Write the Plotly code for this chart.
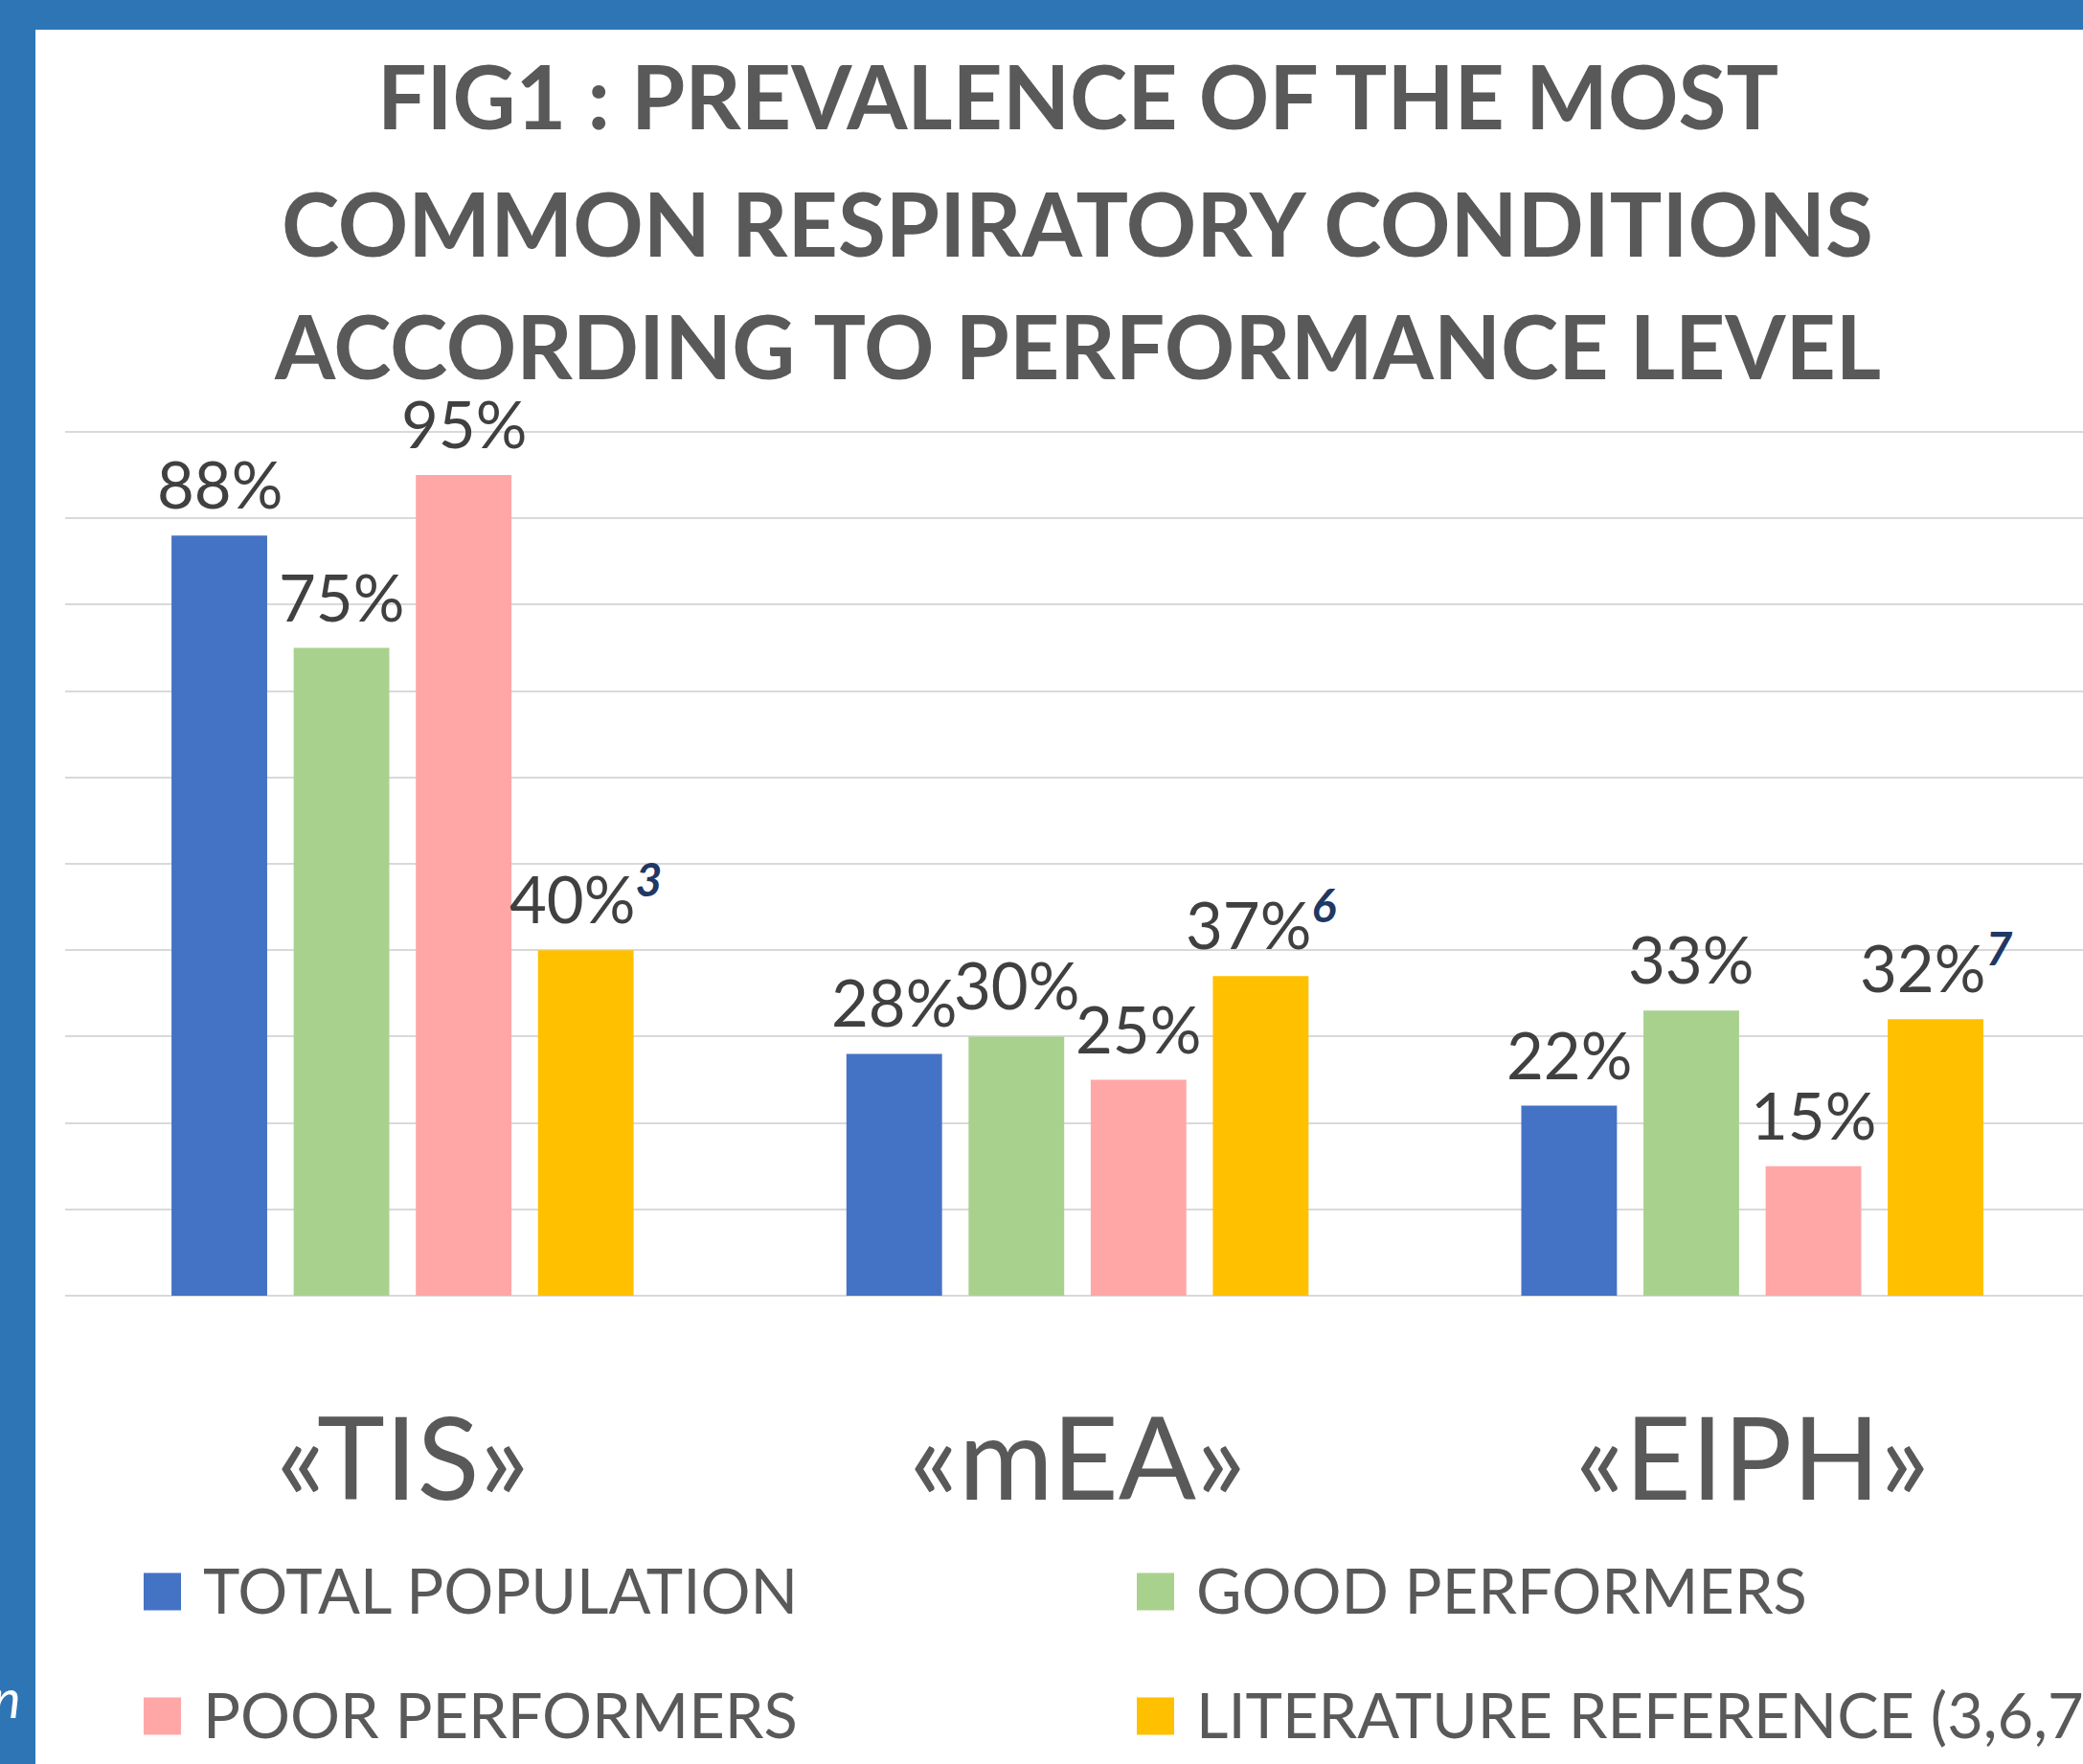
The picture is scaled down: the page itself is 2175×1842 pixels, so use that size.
import plotly.graph_objects as go

# ---------------- data ----------------
categories = ["«TIS»", "«mEA»", "«EIPH»"]
series_names = ["TOTAL POPULATION", "GOOD PERFORMERS", "POOR PERFORMERS",
                "LITERATURE REFERENCE (3,6,7)"]
total_population = [88, 28, 22]
good_performers = [75, 30, 33]
poor_performers = [95, 25, 15]
literature_reference = [40, 37, 32]
literature_refs = ["3", "6", "7"]
title_lines = ["FIG1 : PREVALENCE OF THE MOST",
               "COMMON RESPIRATORY CONDITIONS",
               "ACCORDING TO PERFORMANCE LEVEL"]
y_ticks = [0, 10, 20, 30, 40, 50, 60, 70, 80, 90, 100]

series_values = [total_population, good_performers, poor_performers, literature_reference]
series_colors = ["#4472C4", "#A9D18E", "#FFA7A7", "#FFC000"]

# ---------------- layout geometry ----------------
W, H = 2175, 1842
L, R, T, B = 68, 0, 447, 489
PW = W - L - R
PH = H - T - B
CAT_PX = 704.7          # pixel spacing between category centres
BARGAP = 0.276
GROUPGAP = 0.217
YMAX = 100 + 4.0 * 100 / 901.5   # a little headroom so the 100 gridline is drawn

FONT = "Lato, 'Open Sans', sans-serif"
GREY = "#595959"
LABEL = "#404040"
BORDER = "#2E75B6"


def px_x(px):
    return (px - L) / PW


def px_y(py):
    return (H - B - py) / PH


fig = go.Figure()
for name, vals, col in zip(series_names, series_values, series_colors):
    fig.add_trace(go.Bar(x=categories, y=vals, name=name, marker_color=col,
                         marker_line_width=0, showlegend=False, hoverinfo="x+y+name"))

annotations = []
# value labels
slot = (1 - BARGAP) / len(series_values)
for j, vals in enumerate(series_values):
    for i, v in enumerate(vals):
        txt = f"{v}%"
        if j == len(series_values) - 1:
            txt += (f"<sup><b><i><span style='color:#1F3864;font-size:48px'>"
                    f"{literature_refs[i]}</span></i></b></sup>")
        annotations.append(dict(
            x=i + (j - (len(series_values) - 1) / 2) * slot, y=v,
            xref="x", yref="y", text=txt, showarrow=False,
            xanchor="center", yanchor="bottom", yshift=12,
            font=dict(family=FONT, size=67, color=LABEL)))

# title lines
for k, line in enumerate(title_lines):
    annotations.append(dict(
        x=px_x(1125), y=px_y([100, 232, 361][k]), xref="paper", yref="paper",
        text=f"<b>{line}</b>", showarrow=False, xanchor="center", yanchor="middle",
        font=dict(family=FONT, size=91, color=GREY)))

# legend (custom, two columns)
shapes = []
leg_cols = [150, 1187]
leg_rows = [1662, 1792]
SQ = 39
for idx, (name, col) in enumerate(zip(series_names, series_colors)):
    cx = leg_cols[idx % 2]
    cy = leg_rows[idx // 2]
    shapes.append(dict(type="rect", xref="paper", yref="paper",
                       x0=px_x(cx), x1=px_x(cx + SQ),
                       y0=px_y(cy + SQ / 2), y1=px_y(cy - SQ / 2),
                       fillcolor=col, line=dict(width=0)))
    annotations.append(dict(
        x=px_x(cx + 60), y=px_y(cy - 2), xref="paper", yref="paper", text=name,
        showarrow=False, xanchor="left", yanchor="middle",
        font=dict(family=FONT, size=65, color=GREY)))

# blue frame bands
shapes.append(dict(type="rect", xref="paper", yref="paper",
                   x0=px_x(-5), x1=px_x(37), y0=px_y(H + 5), y1=px_y(-5),
                   fillcolor=BORDER, line=dict(width=0), layer="above"))
shapes.append(dict(type="rect", xref="paper", yref="paper",
                   x0=px_x(-5), x1=px_x(W + 5), y0=px_y(31), y1=px_y(-5),
                   fillcolor=BORDER, line=dict(width=0), layer="above"))

annotations.append(dict(
    x=px_x(-10), y=px_y(1772), xref="paper", yref="paper", text="<i>n</i>",
    showarrow=False, xanchor="left", yanchor="middle",
    font=dict(family=FONT, size=56, color="white")))

fig.update_layout(
    width=W, height=H,
    margin=dict(l=L, r=R, t=T, b=B, pad=0),
    paper_bgcolor="white", plot_bgcolor="white",
    barmode="group", bargap=BARGAP, bargroupgap=GROUPGAP,
    showlegend=False,
    annotations=annotations, shapes=shapes,
    font=dict(family=FONT, color=GREY),
)
fig.update_xaxes(type="category", range=[-0.5, -0.5 + PW / CAT_PX],
                 showgrid=False, showline=False, zeroline=False, ticks="",
                 tickfont=dict(family=FONT, size=120, color=GREY),
                 ticklabelstandoff=92)
fig.update_yaxes(range=[0, YMAX], tickvals=y_ticks, showticklabels=False,
                 showgrid=True, gridcolor="#D9D9D9", gridwidth=2,
                 zeroline=True, zerolinecolor="#D9D9D9", zerolinewidth=2,
                 showline=False, ticks="")

fig.write_html("out.html",
               config={"displayModeBar": False},
               post_script="document.body.style.margin='0';"
                           "document.body.style.overflow='hidden';")
